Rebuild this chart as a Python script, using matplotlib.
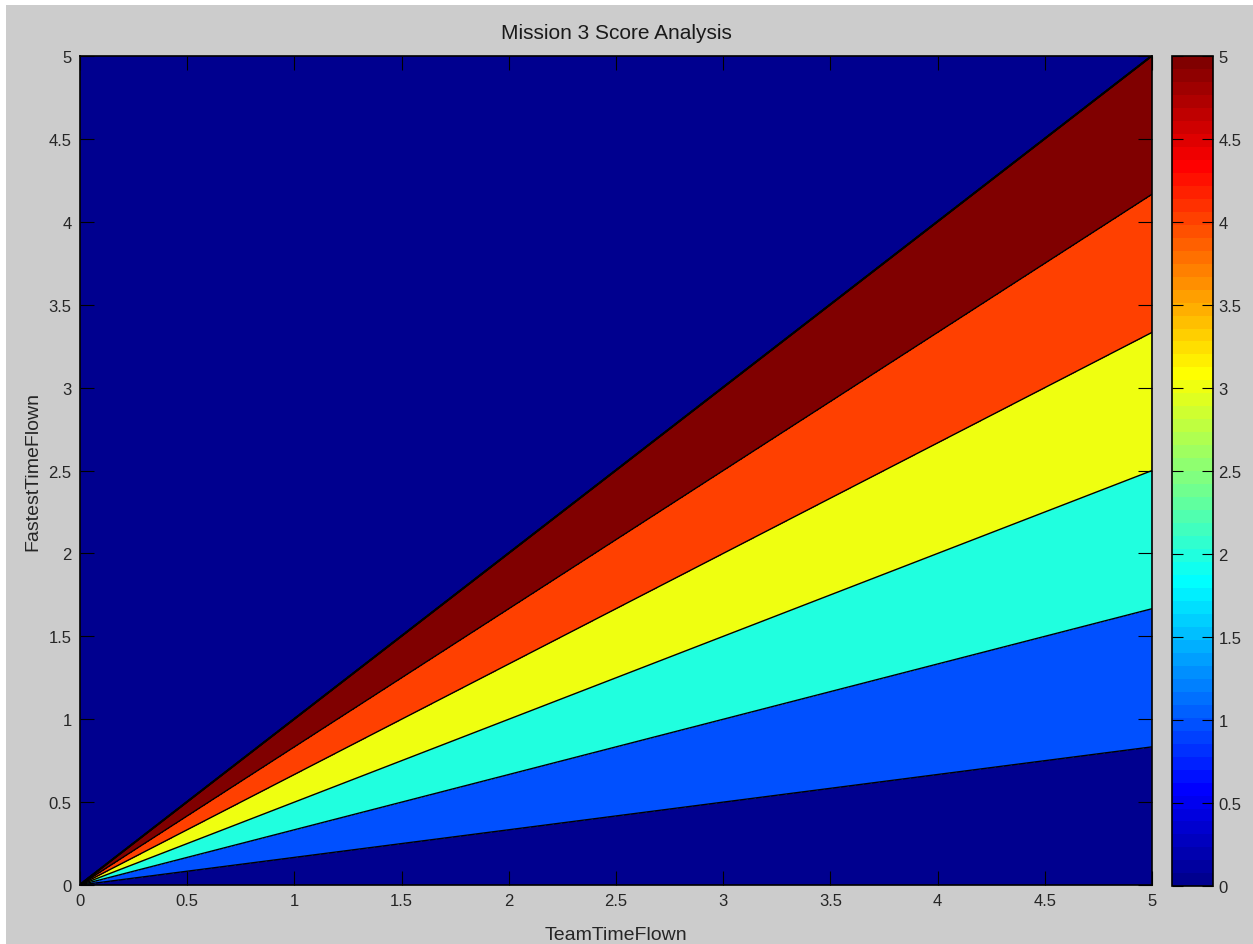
import matplotlib
matplotlib.use("Agg")
import matplotlib.pyplot as plt
import numpy as np
from matplotlib.colors import ListedColormap, Normalize

plt.rcParams['font.family'] = ['Liberation Sans', 'DejaVu Sans']

# scoring: score = 6 * fastest / team, zero when fastest > team
titulo = "Mission 3 Score Analysis"
rotulo_x = "TeamTimeFlown"
rotulo_y = "FastestTimeFlown"
fator_score = 6.0
niveis = [0, 1, 2, 3, 4, 5, 6]
limites = [0, 5]
ticks = [0, 0.5, 1, 1.5, 2, 2.5, 3, 3.5, 4, 4.5, 5]


# Colormap jet igual ao do MATLAB (64 cores)
def jet_matlab(m=64):
    n = int(np.ceil(m / 4))
    u = np.concatenate([np.arange(1, n + 1) / n, np.ones(n - 1), np.arange(n, 0, -1) / n])
    g = int(np.ceil(n / 2)) - (1 if m % 4 == 1 else 0) + np.arange(1, len(u) + 1)
    r = g + n
    b = g - n
    J = np.zeros((m, 3))
    for canal, idx in enumerate([r, g, b]):
        ok = (idx >= 1) & (idx <= m)
        J[idx[ok] - 1, canal] = u[ok]
    return J


J = jet_matlab(64)
cmap = ListedColormap(J)
cores = [J[min(int(n / 5.0 * 64), 63)] for n in niveis[:-1]]

x = np.linspace(1e-6, 5, 900)
y = np.linspace(0, 5, 900)
X, Y = np.meshgrid(x, y)
Z = np.where(Y <= X, fator_score * Y / X, 0.0)

fig = plt.figure(figsize=(12.53, 9.45), dpi=100, facecolor='#cccccc')
# bordas brancas do screenshot (topo e esquerda)
fig.patches.append(plt.Rectangle((0, 0.994), 1, 0.006, transform=fig.transFigure,
                                 facecolor='white', edgecolor='none'))
fig.patches.append(plt.Rectangle((0, 0), 0.005, 1, transform=fig.transFigure,
                                 facecolor='white', edgecolor='none'))
ax = fig.add_axes([0.0638, 0.0624, 0.8556, 0.8772])
ax.contourf(X, Y, Z, levels=niveis, colors=cores)
ax.contour(X, Y, Z, levels=niveis[1:-1], colors='black', linewidths=1.0)
ax.plot(limites, limites, color='black', lw=1.0)

ax.set_xlim(limites)
ax.set_ylim(limites)
ax.set_xticks(ticks)
ax.set_yticks(ticks)
ax.set_xticklabels([f"{t:g}" for t in ticks])
ax.set_yticklabels([f"{t:g}" for t in ticks])
ax.tick_params(direction='in', top=True, right=True, labelsize=12, length=10,
               colors='black', labelcolor='#262626', pad=6)
for s in ax.spines.values():
    s.set_linewidth(1.2)
ax.set_title(titulo, fontsize=15, color='#1a1a1a', pad=13)
ax.set_xlabel(rotulo_x, fontsize=14, color='#262626', labelpad=13)
ax.set_ylabel(rotulo_y, fontsize=14, color='#262626', labelpad=5)

cax = fig.add_axes([0.9354, 0.0610, 0.0327, 0.8786])
sm = matplotlib.cm.ScalarMappable(cmap=cmap, norm=Normalize(0, 5))
cb = fig.colorbar(sm, cax=cax, ticks=ticks)
cb.ax.set_yticklabels([f"{t:g}" for t in ticks])
cb.ax.tick_params(direction='in', left=True, right=True, labelsize=12, length=8,
                  labelcolor='#262626', pad=4)
cb.outline.set_linewidth(1.2)

fig.savefig("out.png", dpi=100, facecolor=fig.get_facecolor())
